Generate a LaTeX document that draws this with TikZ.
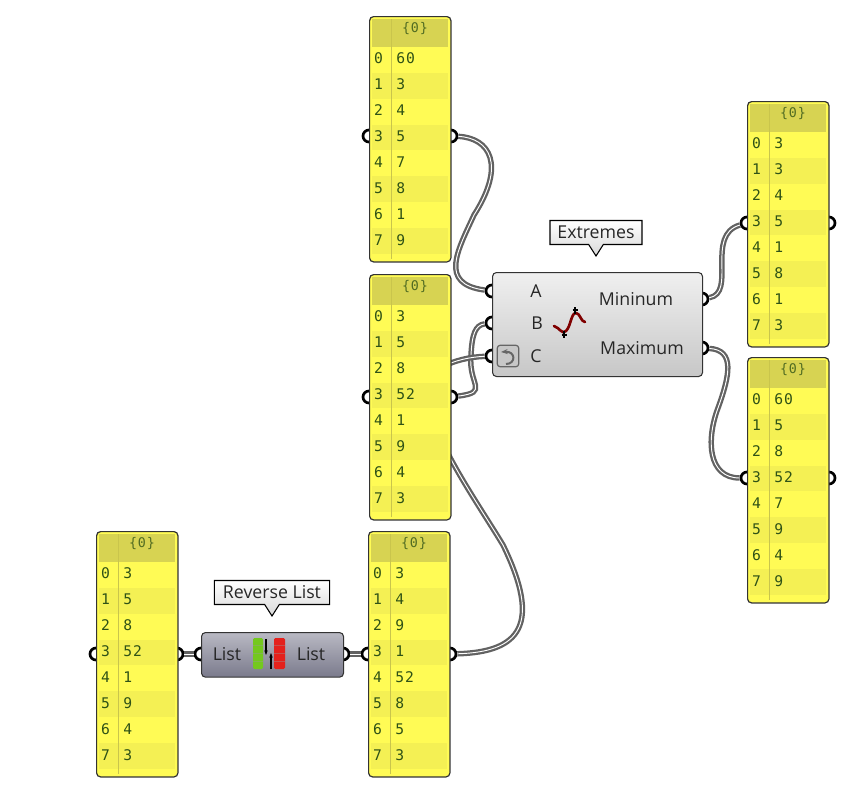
\documentclass[tikz,border=0pt]{standalone}
\usepackage{fontspec}
\setmainfont{Open Sans}
\newfontfamily\panelfont[LetterSpace=7]{DejaVu Sans Mono}
\usetikzlibrary{calc}
\usetikzlibrary{shapes.callouts}
\usetikzlibrary{arrows.meta}

\definecolor{panelbright}{HTML}{FFFB55}
\definecolor{paneldim}{HTML}{F4F054}
\definecolor{panelhead}{HTML}{D7D352}
\definecolor{panelline}{HTML}{C9C54C}
\definecolor{paneltext}{HTML}{2F5216}
\definecolor{wiregray}{HTML}{626262}
\definecolor{edgedark}{HTML}{333333}
\definecolor{revtop}{HTML}{B9B9C3}
\definecolor{revlow}{HTML}{7A7A8C}
\definecolor{iconlime}{HTML}{74C81E}
\definecolor{iconred}{HTML}{E4211C}

\tikzset{
	grip/.style={circle, draw=black, fill=white, line width=2pt, minimum size=9pt, inner sep=0pt},
	wire/.style={draw=wiregray, double=white, line width=1.7pt, double distance=0.7pt},
	panelbody/.style={draw=edgedark, fill=panelbright, line width=0.9pt, rounded corners=3pt, anchor=north west, minimum width=61pt, minimum height=184pt, inner sep=0pt},
	paneltxt/.style={text=paneltext, font=\panelfont\fontsize{11}{11}\selectfont, inner sep=0pt},
	headtxt/.style={text=paneltext!80!panelhead, font=\panelfont\fontsize{10}{10}\selectfont, inner sep=0pt},
	compbox/.style={draw=edgedark, line width=0.8pt, rounded corners=3pt, inner sep=0pt, anchor=north west},
	complabel/.style={text=black!85, font=\fontsize{13.3}{13.3}\selectfont, inner sep=0pt},
	tipbox/.style={rectangle callout, draw=black, line width=0.8pt, top color=white, bottom color=black!15, text=black!85, font=\fontsize{13.3}{13.3}\selectfont, inner sep=0pt, minimum height=18pt, callout pointer width=11pt},
}

% name, left, top, values
\newcommand{\panel}[4]{
	\node[panelbody] (#1) at (#2,#3) {};
	\begin{scope}[shift={(#2,#3)}]
		\fill[panelhead] (3,3) -- (79,3) -- (79,31) -- (3,31) -- cycle;
		\foreach \val [count=\rowno from 0] in {#4} {
			\pgfmathsetmacro{\bandtop}{31+25.85*\rowno}
			\pgfmathsetmacro{\bandlow}{31+25.85*(\rowno+1)}
			\pgfmathsetmacro{\rowmid}{42+26*\rowno}
			\ifodd\rowno
				\fill[paneldim] (3,\bandtop) -- (79,\bandtop) -- (79,\bandlow) -- (3,\bandlow) -- cycle;
			\fi
			\node[paneltxt] (#1i\rowno) at (9.5,\rowmid) {\rowno};
			\node[paneltxt, anchor=west] (#1v\rowno) at (27,\rowmid) {\val};
		}
		\draw[panelline, line width=0.8pt] (22.5,3) -- (22.5,243);
		\node[headtxt] (#1h) at (46,13) {\{0\}};
	\end{scope}
}

\begin{document}
\begin{tikzpicture}[x=0.75pt, y=-0.75pt]
	\useasboundingbox (0,0) rectangle (865,796);

	% grips go first, the panels and boxes cover half of each
	\node[grip] (Al) at (369,136) {};
	\node[grip] (Ar) at (451,136) {};
	\node[grip] (Bl) at (369,397) {};
	\node[grip] (Br) at (451,397) {};
	\node[grip] (Cl) at (747,223) {};
	\node[grip] (Cr) at (829,223) {};
	\node[grip] (Dl) at (747,478) {};
	\node[grip] (Dr) at (829,478) {};
	\node[grip] (El) at (96,654) {};
	\node[grip] (Er) at (177,654) {};
	\node[grip] (Fl) at (368,654) {};
	\node[grip] (Fr) at (450,654) {};
	\node[grip] (xa) at (492,291) {};
	\node[grip] (xb) at (492,323) {};
	\node[grip] (xc) at (492,356) {};
	\node[grip] (xmin) at (702,299) {};
	\node[grip] (xmax) at (702,348) {};
	\node[grip] (rin) at (201,654) {};
	\node[grip] (rout) at (343,654) {};

	\coordinate (amid) at (474,215);
	\coordinate (fmid) at (503,545);
	\coordinate (dmid) at (718,408);
	\draw[wire] (Ar) .. controls (490,138) and (506,165) .. (amid)
		.. controls (458,250) and (438,284) .. (xa);
	\draw[wire] (Br) .. controls (490,392) and (468,385) .. (471,355)
		.. controls (472,335) and (475,325) .. (xb);
	\draw[wire] (Fr) .. controls (520,652) and (542,625) .. (fmid)
		.. controls (470,490) and (400,395) .. (440,368)
		.. controls (455,360) and (470,357) .. (xc);
	\draw[wire] (xmin) .. controls (737,293) and (705,235) .. (Cl);
	\draw[wire] (xmax) .. controls (735,350) and (730,375) .. (dmid)
		.. controls (706,440) and (708,478) .. (Dl);
	\draw[wire] (Er) -- (rin);
	\draw[wire] (rout) -- (Fl);

	\panel{A}{369}{16}{60,3,4,5,7,8,1,9}
	\panel{B}{369}{274}{3,5,8,52,1,9,4,3}
	\panel{C}{747}{101}{3,3,4,5,1,8,1,3}
	\panel{D}{747}{357}{60,5,8,52,7,9,4,9}
	\panel{E}{96}{531}{3,5,8,52,1,9,4,3}
	\panel{F}{368}{531}{3,4,9,1,52,8,5,3}

	% Extremes
	\node[compbox, minimum width=157.5pt, minimum height=78pt, top color=black!6, bottom color=black!22] (ext) at (492,272) {};
	\node[complabel] (exta) at (536,291) {A};
	\node[complabel] (extb) at (537,323) {B};
	\node[complabel] (extc) at (536,356) {C};
	\node[complabel] (extmin) at (636,299) {Mininum};
	\node[complabel] (extmax) at (642,348) {Maximum};
	\draw[red!50!black, line width=2pt, line cap=round, line join=round] (554,326) .. controls (560,328) and (562,335) .. (566,331)
		.. controls (571,326) and (571,313) .. (576,313) .. controls (580,313) and (581,322) .. (585,322);
	\draw[black, line width=1pt] (564,331) -- (564,338) (561.5,335) -- (566.5,335);
	\draw[black, line width=1pt] (575,307) -- (575,314) (572.5,310) -- (577.5,310);
	\node[draw=black!60, fill=black!22, line width=0.9pt, rounded corners=2pt, minimum size=16pt, inner sep=0pt] (undo) at (508,356) {};
	\draw[black!60, line width=1.5pt, -{Stealth[length=5pt]}] (506,364) .. controls (516,364) and (516,351) .. (501,352);
	\node[tipbox, minimum width=69pt, callout absolute pointer={(596,256)}] (exttip) at (596,232.5) {Extremes};

	% Reverse List
	\node[compbox, minimum width=106.5pt, minimum height=33.5pt, top color=revtop, bottom color=revlow] (rev) at (201,632) {};
	\node[complabel] (revin) at (227,654) {List};
	\node[complabel] (revout) at (311,654) {List};
	\fill[iconlime, rounded corners=1pt] (253,638) rectangle (263,669);
	\fill[iconred, rounded corners=1pt] (274,638) rectangle (285,669);
	\foreach \rungy in {645,653,661} {
		\draw[black!40, opacity=0.4, line width=0.4pt] (253,\rungy) -- (263,\rungy) (274,\rungy) -- (285,\rungy);
	}
	\draw[line width=0.8pt, -{Stealth[length=3.5pt]}] (266,639) -- (266,655);
	\draw[line width=0.8pt, -{Stealth[length=3.5pt]}] (271,669) -- (271,653);
	\node[tipbox, minimum width=86.5pt, callout absolute pointer={(272,616)}] (revtip) at (272,592.5) {Reverse List};
\end{tikzpicture}
\end{document}
